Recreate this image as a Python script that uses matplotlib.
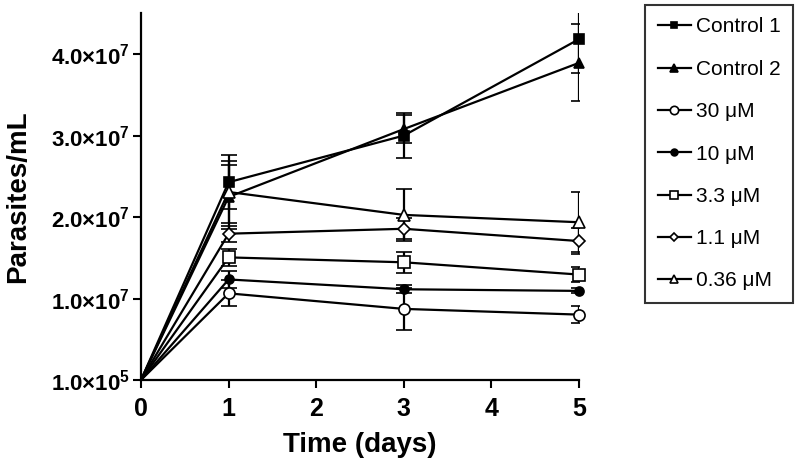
import matplotlib
matplotlib.use("Agg")
import matplotlib.pyplot as plt

plt.rcParams["font.family"] = ["Liberation Sans", "DejaVu Sans"]
plt.rcParams["mathtext.fontset"] = "custom"
plt.rcParams["mathtext.rm"] = "Liberation Sans:bold"
plt.rcParams["mathtext.bf"] = "Liberation Sans:bold"

# data
days = [0, 1, 3, 5]
labels = ["Control 1", "Control 2", "30 \u03bcM", "10 \u03bcM", "3.3 \u03bcM", "1.1 \u03bcM", "0.36 \u03bcM"]
control1 = [1e5, 2.43e7, 3.00e7, 4.18e7]
control2 = [1e5, 2.25e7, 3.08e7, 3.89e7]
conc30 = [1e5, 1.07e7, 0.88e7, 0.81e7]
conc10 = [1e5, 1.24e7, 1.12e7, 1.10e7]
conc3_3 = [1e5, 1.51e7, 1.45e7, 1.30e7]
conc1_1 = [1e5, 1.80e7, 1.86e7, 1.71e7]
conc0_36 = [1e5, 2.31e7, 2.03e7, 1.94e7]

err_control1 = [0, 0.33e7, 0.28e7, 0.42e7]
err_control2 = [0, 0.39e7, 0.17e7, 0.47e7]
err30 = [0, 0.16e7, 0.26e7, 0.10e7]
err10 = [0, 0.10e7, 0.05e7, 0.03e7]
err3_3 = [0, 0.10e7, 0.13e7, 0.09e7]
err1_1 = [0, 0.10e7, 0.13e7, 0.16e7]
err0_36 = [0, 0.38e7, 0.32e7, 0.37e7]

yticks = [1e5, 1e7, 2e7, 3e7, 4e7]
ytick_labels = [r"$1.0{\times}10^{5}$", r"$1.0{\times}10^{7}$", r"$2.0{\times}10^{7}$",
                r"$3.0{\times}10^{7}$", r"$4.0{\times}10^{7}$"]

series = [control1, control2, conc30, conc10, conc3_3, conc1_1, conc0_36]
errors = [err_control1, err_control2, err30, err10, err3_3, err1_1, err0_36]
markers = ["s", "^", "o", "o", "s", "D", "^"]
faces = ["black", "black", "white", "black", "white", "white", "white"]
msizes = [6.5, 7, 8, 6.5, 8, 6, 8.5]

fig = plt.figure(figsize=(8, 4.72), dpi=100)
ax = fig.add_axes([141 / 800, 1 - 380 / 472, (579 - 141) / 800, (380 - 13) / 472])

handles = []
for y, e, m, fc, ms, lab in zip(series, errors, markers, faces, msizes, labels):
    cont = ax.errorbar(days, y, yerr=e, color="black", marker=m, markerfacecolor=fc,
                       markeredgecolor="black", markeredgewidth=1.2, markersize=ms,
                       markevery=[1, 2, 3],
                       linewidth=1.6, capsize=6, capthick=1.6, elinewidth=1.6, label=lab)
    cont[0].set_clip_on(False)
    handles.append(cont[0])

ax.set_xlim(0, 5)
ax.set_ylim(1e5, 4.5e7)
ax.set_xticks([0, 1, 2, 3, 4, 5])
ax.set_yticks(yticks)
ax.set_yticklabels(ytick_labels)
for t in ax.get_xticklabels():
    t.set_fontweight("bold")
ax.tick_params(axis="both", direction="out", length=6, width=1.5, colors="black")
ax.tick_params(axis="x", labelsize=18, pad=6)
ax.tick_params(axis="y", labelsize=16, pad=2)
ax.spines["top"].set_visible(False)
ax.spines["right"].set_visible(False)
ax.spines["left"].set_linewidth(1.6)
ax.spines["bottom"].set_linewidth(1.6)

ax.set_xlabel("Time (days)", fontsize=20, fontweight="bold", labelpad=8)
ax.set_ylabel("Parasites/mL", fontsize=20, fontweight="bold", labelpad=14)

leg = fig.legend(handles, labels, loc="upper left", bbox_to_anchor=(645 / 800, 1 - 5 / 472),
                 borderaxespad=0, fontsize=15, frameon=True, fancybox=False, edgecolor="black",
                 handlelength=1.6, handletextpad=0.25, labelspacing=1.12, borderpad=0.6,
                 markerscale=0.75)
leg.get_frame().set_linewidth(1.5)

plt.savefig("out.png", dpi=100)
